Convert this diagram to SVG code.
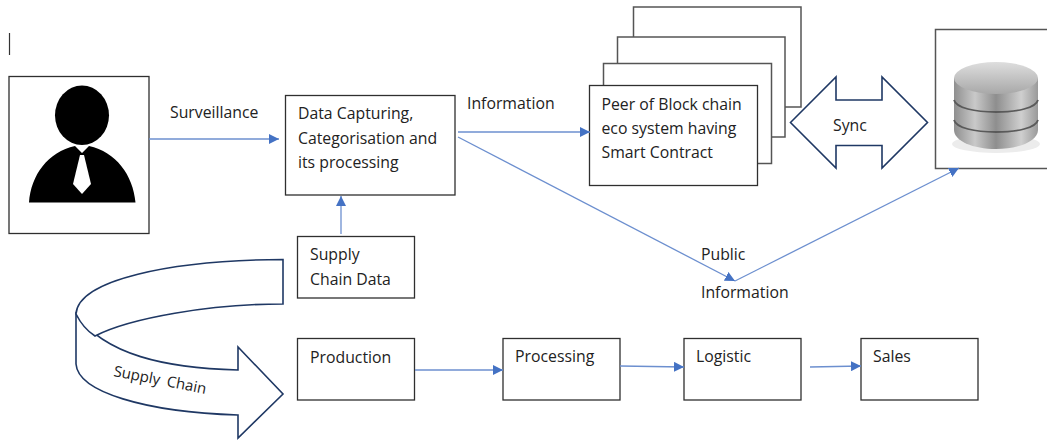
<svg xmlns="http://www.w3.org/2000/svg" width="1047" height="440" viewBox="0 0 1047 440">
<style>
.box{fill:#fff;stroke:#2f2f2f;stroke-width:1.3}
.peer{fill:#fff;stroke:#555;stroke-width:1.5}
.big{fill:#fff;stroke:#1f3864;stroke-width:1.6;stroke-linejoin:miter}
.t{font-family:"Open Sans","Noto Sans",sans-serif;font-size:15.8px;fill:#222}
.c{fill:none;stroke:#6c8fcf;stroke-width:1.3;marker-end:url(#a)}
</style>
<defs>
<marker id="a" markerUnits="userSpaceOnUse" markerWidth="11" markerHeight="10" refX="10" refY="5" orient="auto"><path d="M0 0L10 5L0 10Z" fill="#4472c4"/></marker>
<linearGradient id="cyl" x1="0" x2="1" y1="0" y2="0"><stop offset="0" stop-color="#8f8f8f"/><stop offset=".25" stop-color="#c9c9c9"/><stop offset=".5" stop-color="#8e8e8e"/><stop offset=".8" stop-color="#cfcfcf"/><stop offset="1" stop-color="#9a9a9a"/></linearGradient>
<linearGradient id="top" x1="0" x2="0" y1="0" y2="1"><stop offset="0" stop-color="#dedede"/><stop offset="1" stop-color="#a8a8a8"/></linearGradient>
</defs>
<path id="cursor" d="M9.500 33V55" stroke="#333" stroke-width="1.2"/>
<g id="person">
<rect class="box" x="9" y="76.500" width="140" height="157"/>
<ellipse cx="82" cy="115.300" rx="27" ry="29.700"/>
<path d="M29 202.500C31 175 48 152 75 146L82 153L89 146C116 152 133 175 135.500 202.500Z"/>
<path d="M80 155H84L91 184L82 194L73 184Z" fill="#fff"/>
</g>
<g id="data-capturing">
<rect class="box" x="285.500" y="95.500" width="169.500" height="99.500"/>
<text class="t" x="298" y="119">Data Capturing,</text>
<text class="t" x="298" y="144">Categorisation and</text>
<text class="t" x="298" y="168">its processing</text>
</g>
<g id="peers">
<rect class="peer" x="633.500" y="7" width="167.500" height="100"/>
<rect class="peer" x="617.500" y="37" width="167.500" height="100"/>
<rect class="peer" x="603.500" y="63.500" width="168" height="100"/>
<rect class="box" x="589.500" y="85.500" width="168" height="100"/>
<text class="t" x="601.500" y="110">Peer of Block chain</text>
<text class="t" x="601.500" y="134">eco system having</text>
<text class="t" x="601.500" y="158">Smart Contract</text>
</g>
<g id="sync">
<path class="big" d="M790.500 122.500L836 77V100H882V77L927.500 122.500L882 168V145.500H836V168Z"/>
<text class="t" x="833" y="131">Sync</text>
</g>
<g id="database">
<rect class="peer" x="935.500" y="29.500" width="120" height="139"/>
<ellipse cx="996" cy="144" rx="44" ry="9" fill="#ececec"/>
<path d="M954 78V130C954 141 973 149 996 149S1038 141 1038 130V78Z" fill="url(#cyl)"/>
<path d="M954 100C956 108 975 112 996 112S1036 108 1038 100M954 120C956 128 975 132 996 132S1036 128 1038 120" fill="none" stroke="#5a5a5a" stroke-width="1.800"/>
<ellipse cx="996" cy="78" rx="42" ry="16" fill="url(#top)"/>
</g>
<g id="supply-chain-data">
<rect class="box" x="297.500" y="236.500" width="117" height="61.500"/>
<text class="t" x="310" y="260">Supply</text>
<text class="t" x="310" y="285">Chain Data</text>
</g>
<g id="supply-chain">
<path class="big" d="M76 314V364C78 392 145 412 238 415V438L283 394L238 347V370C165 368 105 355 76 314Z"/>
<path class="big" d="M95 336C130 318 210 304 283 304V259.500C170 260 78 280 76 314C80 322 87 331 95 336Z"/>
<text class="t" style="font-size:15px" transform="translate(113 376) rotate(11)" word-spacing="3">Supply Chain</text>
</g>
<g id="production">
<rect class="box" x="297.500" y="338.500" width="117" height="61.500"/>
<text class="t" x="310" y="363">Production</text>
</g>
<g id="processing">
<rect class="box" x="503" y="338.500" width="117" height="61.500"/>
<text class="t" x="515" y="362">Processing</text>
</g>
<g id="logistic">
<rect class="box" x="684" y="338.500" width="117" height="61.500"/>
<text class="t" x="696" y="362">Logistic</text>
</g>
<g id="sales">
<rect class="box" x="861" y="338.500" width="117" height="61.500"/>
<text class="t" x="873" y="362">Sales</text>
</g>
<g id="connectors">
<path class="c" d="M149 139H279"/>
<path class="c" d="M458 132H590"/>
<path class="c" d="M458 137L735 281"/>
<path class="c" d="M735 281L959 168"/>
<path class="c" d="M341 234V196"/>
<path class="c" d="M415 370H503"/>
<path class="c" d="M620 366L684 367"/>
<path class="c" d="M810 367L861 366"/>
</g>
<g id="labels">
<text class="t" x="170" y="118">Surveillance</text>
<text class="t" x="467" y="109">Information</text>
<text class="t" x="701" y="260">Public</text>
<text class="t" x="701" y="298">Information</text>
</g>
</svg>
